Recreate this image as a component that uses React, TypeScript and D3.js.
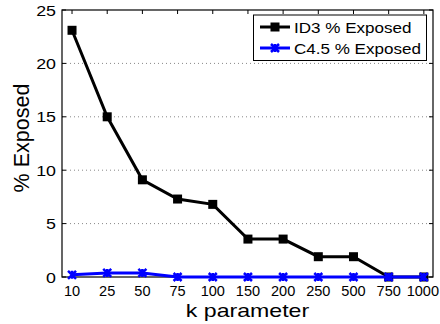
import React from "react";
import * as d3 from "d3";

const categories = ["10", "25", "50", "75", "100", "150", "200", "250", "500", "750", "1000"];
const id3Values = [23.1, 15.0, 9.1, 7.3, 6.8, 3.55, 3.55, 1.9, 1.9, 0, 0];
const c45Values = [0.2, 0.38, 0.38, 0, 0, 0, 0, 0, 0, 0, 0];
const yTicks = [0, 5, 10, 15, 20, 25];
const seriesNames = ["ID3 % Exposed", "C4.5 % Exposed"];

const W = 440, H = 324;
const L = 62, R = 433, T = 10, B = 277;
const FONT = "Liberation Sans, Arial, Helvetica, sans-serif";

function T2(props: { x: number; y: number; size: number; sx: number; anchor?: string; children: React.ReactNode }) {
  return (
    <text
      transform={`translate(${props.x},${props.y}) scale(${props.sx},1)`}
      textAnchor={props.anchor || "start"}
      fontFamily={FONT}
      fontSize={props.size}
    >
      {props.children}
    </text>
  );
}

export default function App() {
  const x = d3.scaleLinear().domain([-0.285, 10.26]).range([L, R]);
  const y = d3.scaleLinear().domain([0, 25]).range([B, T]);
  const line = d3.line<number>().x((_, i) => x(i)).y((d) => y(d));
  const cross = (cx: number, cy: number, s: number) =>
    `M${cx - s},${cy - s}L${cx + s},${cy + s}M${cx - s},${cy + s}L${cx + s},${cy - s}M${cx},${cy - s}L${cx},${cy + s}`;
  return (
    <svg width={W} height={H} style={{ position: "absolute", left: 0, top: 0, background: "#fff" }}>
      <rect x={0} y={0} width={W} height={H} fill="#fff" />
      {yTicks.slice(1, -1).map((t) => (
        <line key={t} x1={L} x2={R} y1={y(t)} y2={y(t)} stroke="#888" strokeWidth={1} strokeDasharray="1,3" />
      ))}
      {categories.map((c, i) => (
        <g key={c}>
          <line x1={x(i)} x2={x(i)} y1={B} y2={B - 4} stroke="#000" />
          <line x1={x(i)} x2={x(i)} y1={T} y2={T + 4} stroke="#000" />
          <T2 x={x(i) - (i === categories.length - 1 ? 1 : 0)} y={296} size={15} sx={0.97} anchor="middle">{c}</T2>
        </g>
      ))}
      {yTicks.map((t) => (
        <g key={t}>
          <line x1={L} x2={L + 4} y1={y(t)} y2={y(t)} stroke="#000" />
          <line x1={R} x2={R - 4} y1={y(t)} y2={y(t)} stroke="#000" />
          <T2 x={L - 6} y={y(t) + 5.5} size={15.5} sx={1.15} anchor="end">{t}</T2>
        </g>
      ))}
      <rect x={L} y={T} width={R - L} height={B - T} fill="none" stroke="#000" strokeWidth={1.2} />
      <path d={line(id3Values) || ""} fill="none" stroke="#000" strokeWidth={3} />
      {id3Values.map((v, i) => (
        <rect key={i} x={x(i) - 4.5} y={y(v) - 4.5} width={9} height={9} fill="#000" />
      ))}
      <path d={line(c45Values) || ""} fill="none" stroke="#0000ff" strokeWidth={3} />
      {c45Values.map((v, i) => (
        <path key={i} d={cross(x(i), y(v), 4)} stroke="#0000ff" strokeWidth={2.5} fill="none" />
      ))}
      <rect x={253.5} y={15} width={173} height={45.5} fill="#fff" stroke="#000" strokeWidth={1} />
      <line x1={260} x2={290} y1={27} y2={27} stroke="#000" strokeWidth={3} />
      <rect x={270.5} y={22.5} width={9} height={9} fill="#000" />
      <T2 x={294} y={33} size={15.5} sx={1.1}>{seriesNames[0]}</T2>
      <line x1={260} x2={290} y1={48} y2={48} stroke="#0000ff" strokeWidth={3} />
      <path d={cross(275, 48, 4)} stroke="#0000ff" strokeWidth={2.5} fill="none" />
      <T2 x={294} y={54} size={15.5} sx={1.1}>{seriesNames[1]}</T2>
      <T2 x={247.5} y={317} size={18.5} sx={1.25} anchor="middle">k parameter</T2>
      <text transform={`translate(29,138) rotate(-90)`} textAnchor="middle" fontFamily={FONT} fontSize={21.5}>% Exposed</text>
    </svg>
  );
}
